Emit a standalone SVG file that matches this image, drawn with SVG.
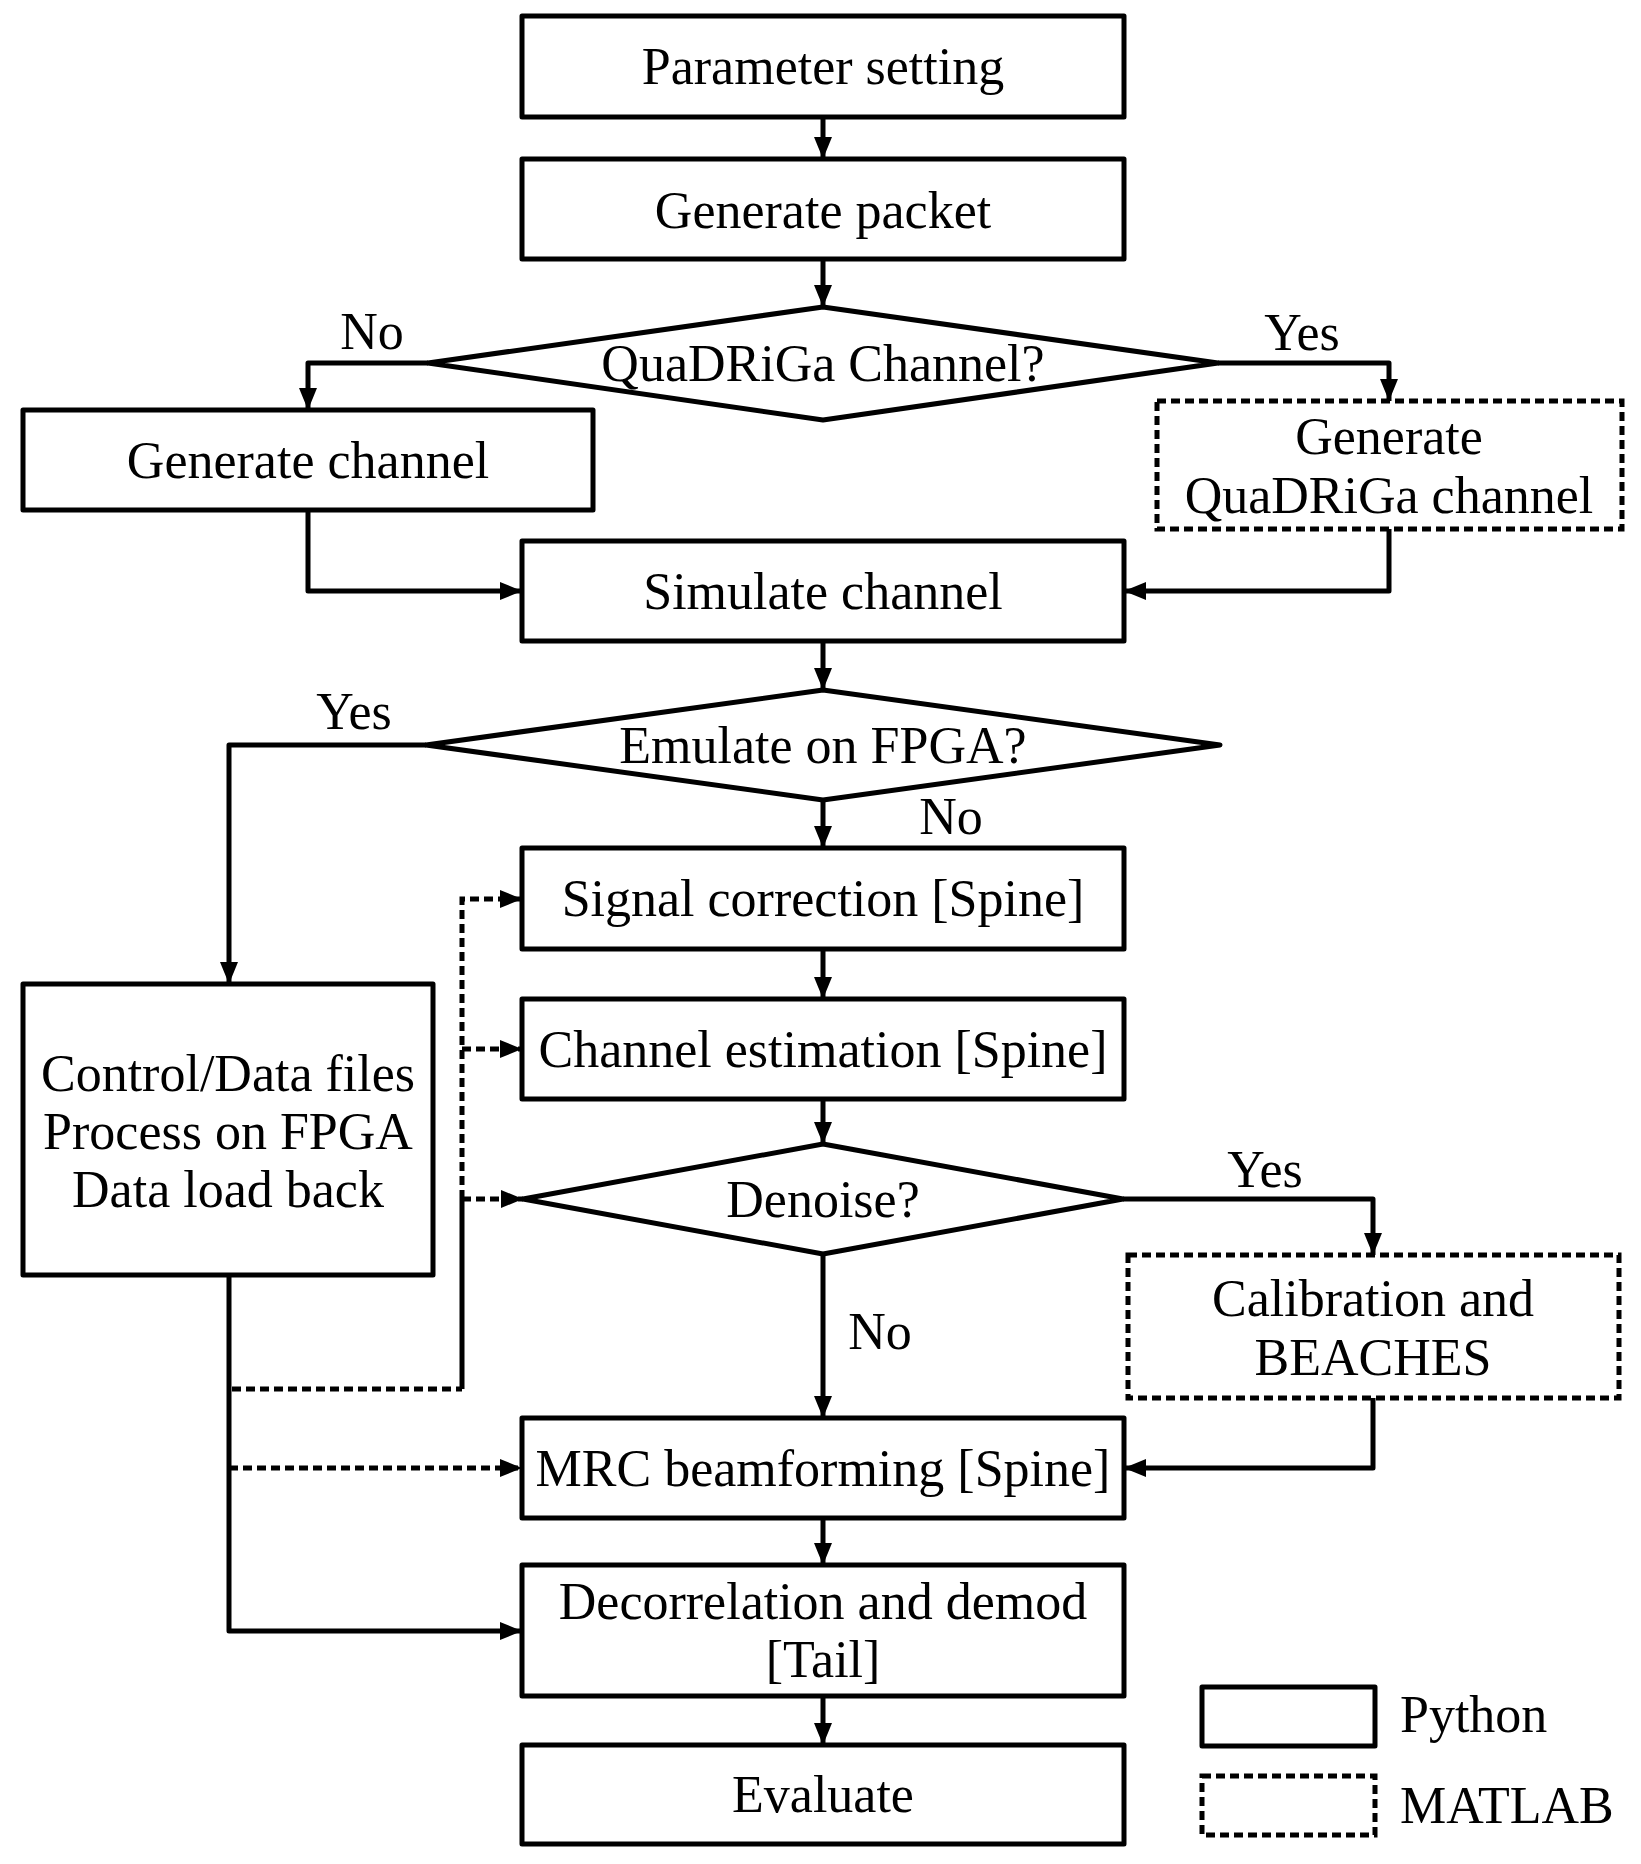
<svg xmlns="http://www.w3.org/2000/svg" width="1641" height="1864" viewBox="0 0 1641 1864">
<style>
.box{fill:#fff;stroke:#000;stroke-width:5;stroke-linejoin:round}
.dbox{fill:#fff;stroke:#000;stroke-width:5;stroke-dasharray:9 5}
.t{font-family:"Liberation Serif","Times New Roman",serif;font-size:52px;fill:#000;text-anchor:middle}
.tl{font-family:"Liberation Serif","Times New Roman",serif;font-size:52px;fill:#000}
.ln{fill:none;stroke:#000;stroke-width:5;stroke-linejoin:round}
.dl{fill:none;stroke:#000;stroke-width:5;stroke-dasharray:9 5}
</style>
<defs>
<marker id="ah" viewBox="0 0 22 18" refX="22" refY="9" markerWidth="22" markerHeight="18" markerUnits="userSpaceOnUse" orient="auto">
<path d="M0,0 L22,9 L0,18 z" fill="#000"/>
</marker>
</defs>
<rect width="1641" height="1864" fill="#fff"/>
<g id="connectors">
<path class="ln" d="M823,117 V159" marker-end="url(#ah)"/>
<path class="ln" d="M823,259 V307" marker-end="url(#ah)"/>
<path class="ln" d="M428,363 H308 V410" marker-end="url(#ah)"/>
<path class="ln" d="M1218,363 H1389 V401" marker-end="url(#ah)"/>
<path class="ln" d="M308,510 V591 H522" marker-end="url(#ah)"/>
<path class="ln" d="M1389,529 V591 H1124" marker-end="url(#ah)"/>
<path class="ln" d="M823,641 V690" marker-end="url(#ah)"/>
<path class="ln" d="M426,745 H229 V984" marker-end="url(#ah)"/>
<path class="ln" d="M823,800 V848" marker-end="url(#ah)"/>
<path class="ln" d="M823,949 V999" marker-end="url(#ah)"/>
<path class="ln" d="M823,1099 V1144" marker-end="url(#ah)"/>
<path class="ln" d="M1123,1199 H1373 V1255" marker-end="url(#ah)"/>
<path class="ln" d="M823,1254 V1418" marker-end="url(#ah)"/>
<path class="ln" d="M1373,1398 V1468 H1124" marker-end="url(#ah)"/>
<path class="ln" d="M823,1518 V1565" marker-end="url(#ah)"/>
<path class="ln" d="M823,1696 V1745" marker-end="url(#ah)"/>
<path class="ln" d="M229,1275 V1631 H522" marker-end="url(#ah)"/>
<path class="dl" d="M229,1468 H522" marker-end="url(#ah)"/>
<path class="dl" d="M232,1389 H462"/>
<path class="ln" d="M462,1389 V1199"/>
<path class="dl" d="M462,1199 V899 H522" marker-end="url(#ah)"/>
<path class="dl" d="M462,1049 H522" marker-end="url(#ah)"/>
<path class="dl" d="M462,1199 H523" marker-end="url(#ah)"/>
</g>
<g id="n-param"><rect class="box" x="522" y="16" width="602" height="101"/><text class="t" x="823" y="84">Parameter setting</text></g>
<g id="n-packet"><rect class="box" x="522" y="159" width="602" height="100"/><text class="t" x="823" y="228">Generate packet</text></g>
<g id="n-quadriga-q"><polygon class="box" points="823,307 1218,363 823,420 428,363"/><text class="t" x="823" y="381">QuaDRiGa Channel?</text></g>
<g id="n-genchan"><rect class="box" x="23" y="410" width="570" height="100"/><text class="t" x="308" y="478">Generate channel</text></g>
<g id="n-genquad"><rect class="dbox" x="1157" y="401" width="465" height="128"/><text class="t" x="1389" y="454">Generate</text><text class="t" x="1389" y="513">QuaDRiGa channel</text></g>
<g id="n-simulate"><rect class="box" x="522" y="541" width="602" height="100"/><text class="t" x="823" y="609">Simulate channel</text></g>
<g id="n-emulate-q"><polygon class="box" points="823,690 1220,745 823,800 426,745"/><text class="t" x="823" y="763">Emulate on FPGA?</text></g>
<g id="n-fpga"><rect class="box" x="23" y="984" width="410" height="291"/><text class="t" x="228" y="1091">Control/Data files</text><text class="t" x="228" y="1149">Process on FPGA</text><text class="t" x="228" y="1207">Data load back</text></g>
<g id="n-signal"><rect class="box" x="522" y="848" width="602" height="101"/><text class="t" x="823" y="916">Signal correction [Spine]</text></g>
<g id="n-chest"><rect class="box" x="522" y="999" width="602" height="100"/><text class="t" x="823" y="1067">Channel estimation [Spine]</text></g>
<g id="n-denoise-q"><polygon class="box" points="823,1144 1123,1199 823,1254 523,1199"/><text class="t" x="823" y="1217">Denoise?</text></g>
<g id="n-calib"><rect class="dbox" x="1128" y="1255" width="491" height="143"/><text class="t" x="1373" y="1316">Calibration and</text><text class="t" x="1373" y="1375">BEACHES</text></g>
<g id="n-mrc"><rect class="box" x="522" y="1418" width="602" height="100"/><text class="t" x="823" y="1486">MRC beamforming [Spine]</text></g>
<g id="n-decor"><rect class="box" x="522" y="1565" width="602" height="131"/><text class="t" x="823" y="1619">Decorrelation and demod</text><text class="t" x="823" y="1677">[Tail]</text></g>
<g id="n-evaluate"><rect class="box" x="522" y="1745" width="602" height="99"/><text class="t" x="823" y="1812">Evaluate</text></g>
<g id="labels">
<text class="t" x="372" y="349">No</text>
<text class="t" x="1302" y="350">Yes</text>
<text class="t" x="354" y="729">Yes</text>
<text class="t" x="951" y="834">No</text>
<text class="t" x="1265" y="1187">Yes</text>
<text class="t" x="880" y="1349">No</text>
</g>
<g id="legend">
<rect class="box" x="1202" y="1687" width="173" height="59"/>
<text class="tl" x="1400" y="1732">Python</text>
<rect class="dbox" x="1202" y="1776" width="173" height="59"/>
<text class="tl" x="1400" y="1823">MATLAB</text>
</g>
</svg>
